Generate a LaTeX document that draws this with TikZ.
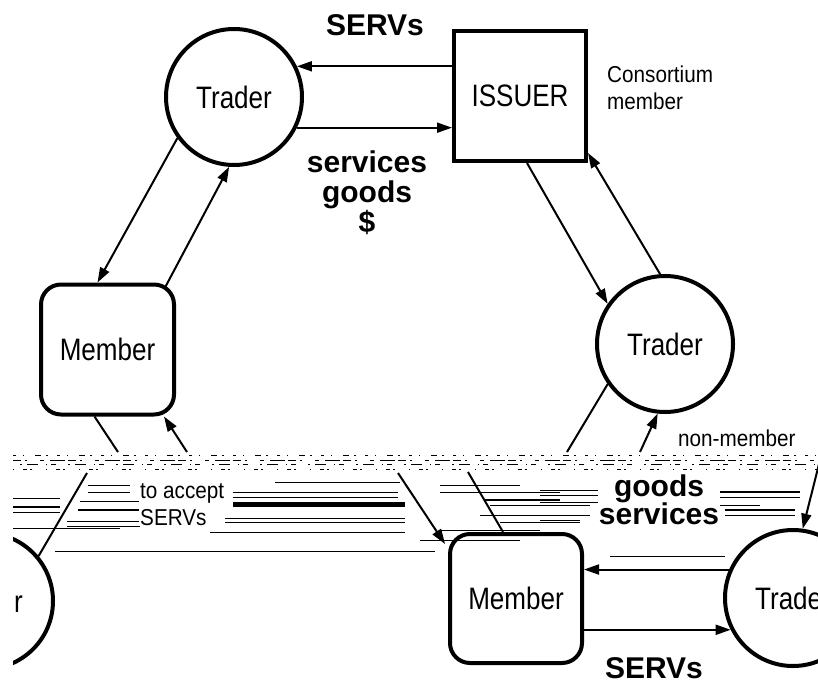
\documentclass[tikz,border=0pt]{standalone}
\usepackage{fontspec}
\setmainfont{Liberation Sans}
\newfontfamily\nodefont{Liberation Sans}[FakeStretch=0.84]
\newfontfamily\notefont{Liberation Sans}[FakeStretch=0.9]
\usetikzlibrary{arrows.meta,calc}

\tikzset{
  trader/.style={circle, draw, line width=4pt, minimum size=136pt, inner sep=0pt,
    font=\nodefont\fontsize{31}{31}\selectfont},
  issuerbox/.style={rectangle, draw, line width=4pt, minimum width=132pt,
    minimum height=130pt, inner sep=0pt, font=\nodefont\fontsize{31}{31}\selectfont},
  memberbox/.style={rectangle, rounded corners=20pt, draw, line width=4pt,
    minimum width=133pt, minimum height=130pt, inner sep=0pt,
    font=\nodefont\fontsize{31}{31}\selectfont},
  flow/.style={line width=2pt, -{Triangle[length=15pt,width=10pt]}},
  plain/.style={line width=2pt},
  streak/.style={line width=#1},
  streak/.default=1pt,
  biglabel/.style={inner sep=0pt, align=center,
    font=\bfseries\fontsize{30}{30}\selectfont},
  note/.style={inner sep=0pt, align=left,
    font=\notefont\fontsize{23}{27}\selectfont},
}

\begin{document}
\begin{tikzpicture}[x=1pt, y=-1pt]
\useasboundingbox (0,0) rectangle (818,684);

% ---------- upper part of the chain ----------
\node[trader]    (t1)  at (234,97)      {Trader};
\node[issuerbox] (iss) at (520,96)      {ISSUER};
\node[memberbox] (m1)  at (107.5,349.5) {Member};
\node[trader]    (t2)  at (665,344)     {Trader};

\draw[flow] (iss.west |- t1.26) -- (t1.26);
\draw[flow] (t1.-26) -- (iss.west |- t1.-26);

\draw[flow] (t1.216) -- ($(m1.north)+(-10,0)$);
\draw[flow] ($(m1.north)+(57,6)$) -- (t1.266);

\draw[flow] ($(iss.south)+(7,0)$) -- (t2.145);
\draw[flow] (t2.94) -- ($(iss.south east)+(0,-10)$);

% links leaving towards the lower part
\coordinate (g1) at (118,452);
\coordinate (h1) at (187,452);
\coordinate (i1) at (567,452);
\coordinate (j1) at (640,452);
\draw[plain] ($(m1.south)+(-13,0)$) -- (g1);
\draw[flow] (h1) -- ($(m1.south east)+(-12,0)$);
\draw[plain] (t2.215) -- (i1);
\draw[flow] (j1) -- (t2.264);

\node[biglabel] (lservs) at (375,25) {SERVs};
\node[biglabel, anchor=north] (lgoods) at (367,151) {services\\goods\\\$};
\node[note, anchor=north west] (lcons) at (607,66) {Consortium\\member};
\node[note, anchor=base west] (lnon) at (678,446) {non-member};

% ---------- streaks across the overlap band ----------
\begin{scope}
\clip (13,450) rectangle (818,560);
\draw[streak=0.7pt, dash pattern=on 3pt off 7pt on 1pt off 11pt on 6pt off 5pt on 2pt off 9pt] (13,455) -- (818,455);
\draw[streak=0.9pt, dash pattern=on 8pt off 4pt on 2pt off 13pt on 4pt off 6pt on 15pt off 3pt] (13,460) -- (818,460);
\draw[streak=0.7pt, dash pattern=on 2pt off 5pt on 11pt off 8pt on 1pt off 4pt on 5pt off 12pt] (20,464) -- (818,464);
\draw[streak=0.6pt, dash pattern=on 1pt off 9pt on 4pt off 3pt on 2pt off 14pt] (13,469) -- (818,469);
\foreach \xa/\xb/\ya/\w in {
   88/130/485/1pt, 88/130/492/1pt, 13/60/498/1pt, 13/60/507/1.5pt, 13/60/512/1pt,
   80/140/501/1pt, 233/405/504/5pt, 78/140/510/2pt, 67/140/521/1pt, 67/140/526/1pt,
   210/405/518/1pt, 210/405/522/1pt, 210/405/532/1pt, 233/398/492/1pt, 233/398/497/1pt,
   275/400/482/1pt, 55/435/551/1pt, 0/120/528/1pt,
   440/520/485/1pt, 440/560/492/1pt, 485/560/500/1.5pt, 490/590/505/1pt,
   480/590/515/1pt, 500/580/522/1pt, 440/540/530/1pt, 420/520/540/1pt,
   540/600/490/1pt, 540/600/495/1pt, 540/600/502/1pt, 540/580/520/1pt,
   700/800/492/1.5pt, 700/800/497/1pt, 700/760/505/1pt, 725/795/510/1.5pt, 725/795/515/1pt,
   610/725/556/1pt}
  \draw[streak=\w] (\xa,\ya) -- (\xb,\ya);
\end{scope}

% ---------- lower part of the chain ----------
\begin{scope}
\clip (13,447) rectangle (818,684);
\node[trader]    (t4) at (-15,601)    {Trader};
\node[memberbox, minimum width=132pt, minimum height=129pt] (m2) at (516,598.5) {Member};
\node[trader]    (t3) at (793,598)    {Trader};

\coordinate (k1) at (87,473);
\coordinate (l1) at (398,473);
\coordinate (n1) at (468,472);
\coordinate (o1) at (820,460);
\draw[plain] (t4.40) -- (k1);
\draw[flow] (l1) -- ($(m2.north west)+(-3,12)$);
\draw[plain] (n1) -- ($(m2.north)+(-13,0)$);
\draw[flow] (o1) -- (t3.82);

\draw[flow] (t3.156) -- (m2.east |- t3.156);
\draw[flow] (m2.east |- t3.207) -- (t3.207);
\end{scope}

\node[note, anchor=north west, fill=white, inner sep=1pt] (laccept) at (139,482) {to accept\\SERVs};
\node[biglabel, anchor=north, fill=white, inner sep=1pt] (lgs) at (659,474) {goods\\[-2pt]services};
\node[biglabel, anchor=base] (lservs2) at (654,678) {SERVs};
\end{tikzpicture}
\end{document}
